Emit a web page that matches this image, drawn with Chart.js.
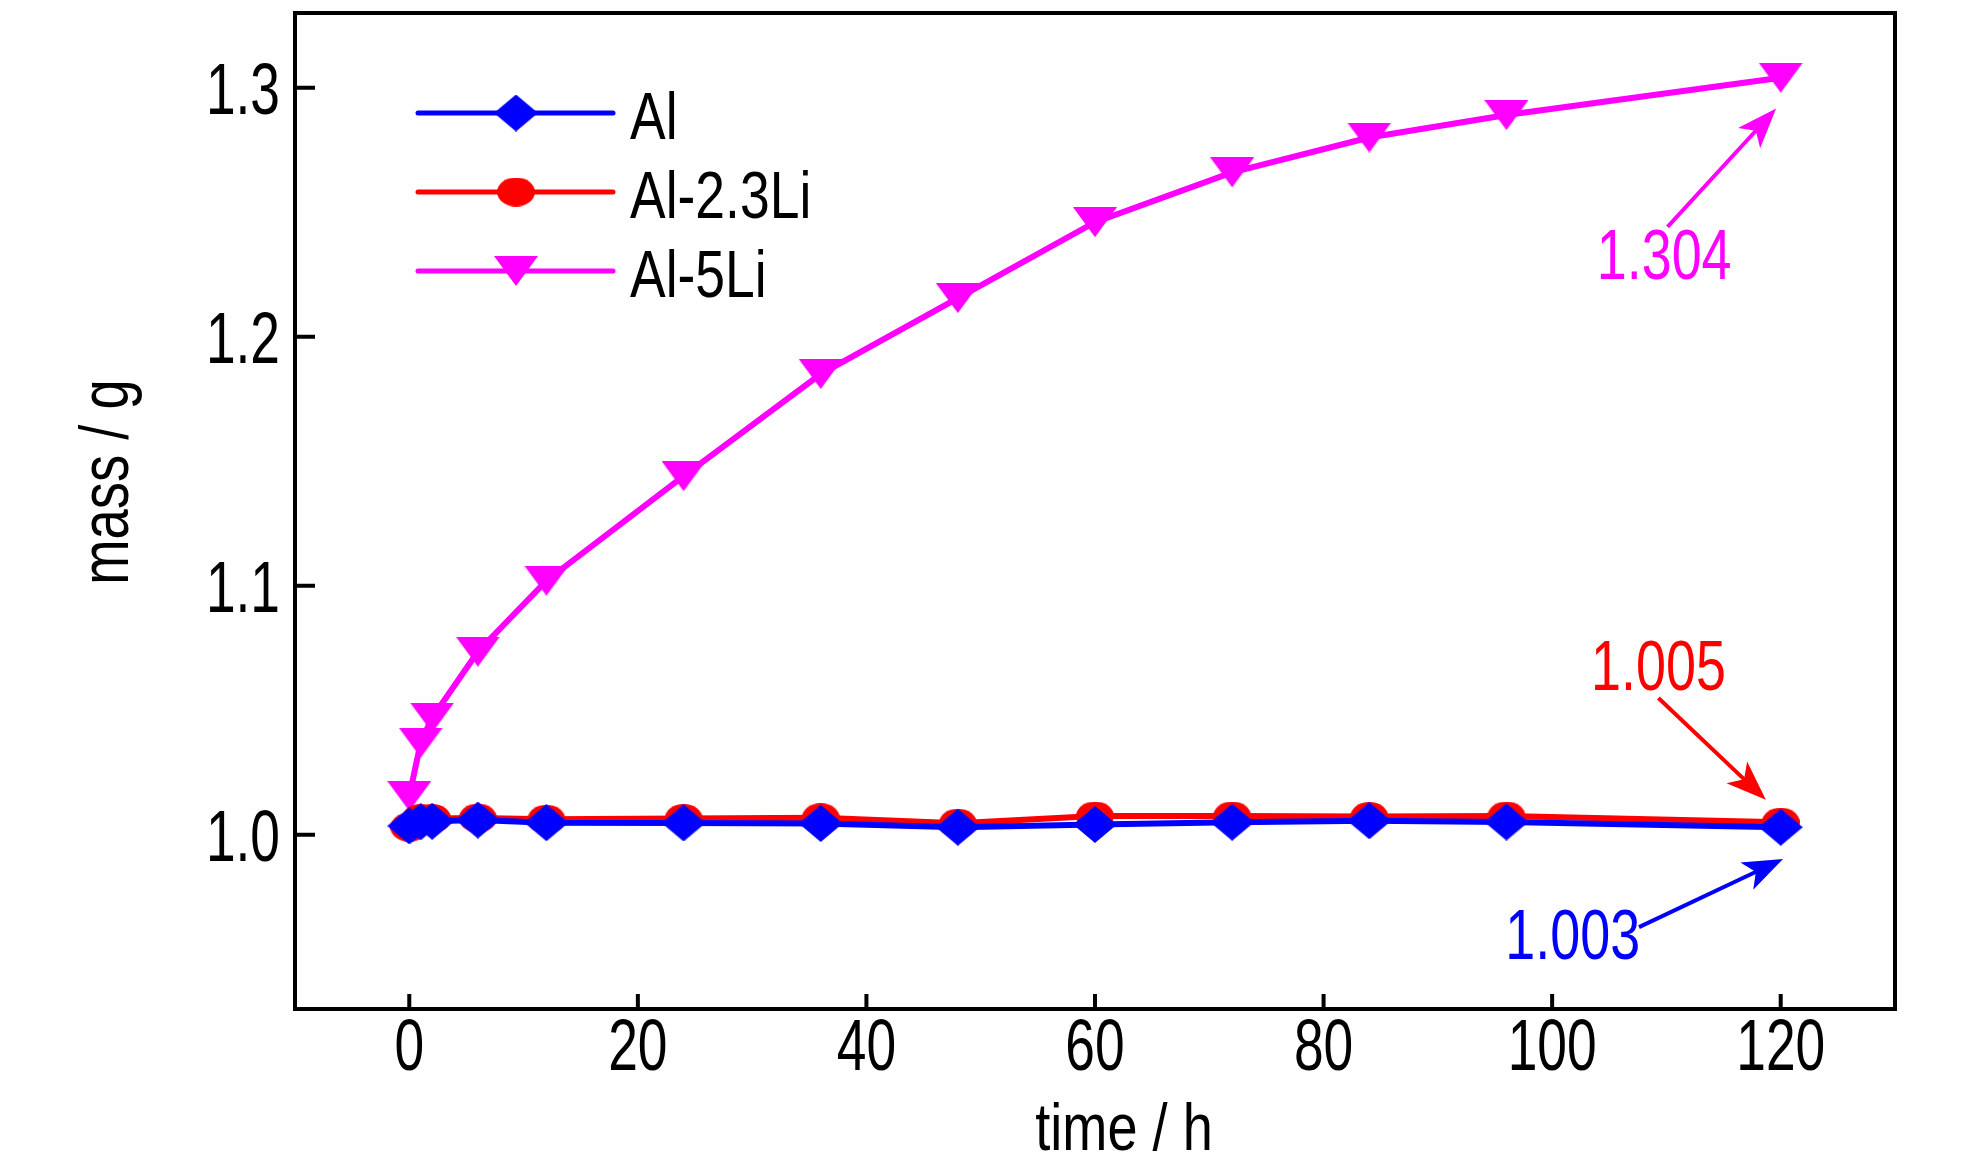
<!DOCTYPE html>
<html>
<head>
<meta charset="utf-8">
<title>mass vs time</title>
<script src="https://cdn.jsdelivr.net/npm/chart.js@4"></script>
<style>
  html, body { margin: 0; padding: 0; background: #fff; }
  canvas { display: block; }
</style>
</head>
<body>
<canvas id="graficoMasa" width="1984" height="1157"></canvas>
<script>
// ====================
// Datos
// ====================
const hours = [0, 1, 2, 6, 12, 24, 36, 48, 60, 72, 84, 96, 120];
const massAl = [1.0035, 1.0052, 1.0054, 1.0059, 1.0048, 1.0047, 1.0045, 1.0030, 1.0041, 1.0050, 1.0056, 1.0051, 1.003];
const massAl23Li = [1.0030, 1.0065, 1.0065, 1.0067, 1.0062, 1.0065, 1.0068, 1.0046, 1.0075, 1.0075, 1.0073, 1.0075, 1.005];
const massAl5Li = [1.0155, 1.037, 1.047, 1.0735, 1.102, 1.144, 1.185, 1.2155, 1.246, 1.266, 1.280, 1.289, 1.304];
const seriesNames = ["Al", "Al-2.3Li", "Al-5Li"];
const xTicks = [0, 20, 40, 60, 80, 100, 120];
const yTicks = [1.0, 1.1, 1.2, 1.3];

const BLUE = "#0000ff", RED = "#ff0000", MAGENTA = "#ff00ff";
const SANS = '"Liberation Sans", Arial, sans-serif';

// texto estrecho: Liberation Sans comprimido en horizontal
function narrowText(ctx, text, x, y, size, sx, align, color) {
    ctx.save();
    ctx.translate(x, y);
    ctx.scale(sx, 1);
    ctx.font = size + "px " + SANS;
    ctx.textAlign = align;
    ctx.textBaseline = "alphabetic";
    ctx.fillStyle = color || "#000";
    ctx.fillText(text, 0, 0);
    ctx.restore();
}

// marcadores dibujados en un canvas pequeño
function marker(kind, w, h, color) {
    const c = document.createElement("canvas");
    c.width = w; c.height = h;
    const g = c.getContext("2d");
    g.fillStyle = color;
    g.beginPath();
    if (kind === "diamond") {
        g.moveTo(w / 2, 0); g.lineTo(w, h / 2); g.lineTo(w / 2, h); g.lineTo(0, h / 2);
    } else if (kind === "ellipse") {
        g.ellipse(w / 2, h / 2, w / 2, h / 2, 0, 0, Math.PI * 2);
    } else {
        g.moveTo(0, 0); g.lineTo(w, 0); g.lineTo(w / 2, h);
    }
    g.closePath();
    g.fill();
    return c;
}

const mkDiamond = marker("diamond", 44, 37, BLUE);
const mkCircle = marker("ellipse", 38, 29, RED);
const mkTriangle = marker("triangle", 44, 30, MAGENTA);

function pts(values) {
    return hours.map((h, i) => ({ x: h, y: values[i] }));
}

// ====================
// Decoración: marco, ticks, etiquetas, títulos, leyenda, flechas
// ====================
const decor = {
    id: "decor",
    afterDraw(chart) {
        const { ctx, chartArea: a, scales: { x, y } } = chart;
        ctx.save();

        // marco
        ctx.strokeStyle = "#000";
        ctx.lineWidth = 4;
        ctx.strokeRect(a.left, a.top, a.width, a.height);

        // ticks hacia dentro y sus etiquetas
        ctx.beginPath();
        x.ticks.forEach(t => {
            const px = x.getPixelForValue(t.value);
            ctx.moveTo(px, a.bottom);
            ctx.lineTo(px, a.bottom - 15);
        });
        y.ticks.forEach(t => {
            const py = y.getPixelForValue(t.value);
            ctx.moveTo(a.left, py);
            ctx.lineTo(a.left + 20, py);
        });
        ctx.stroke();

        x.ticks.forEach(t => {
            narrowText(ctx, String(t.value), x.getPixelForValue(t.value), a.bottom + 61, 73, 0.73, "center");
        });
        y.ticks.forEach(t => {
            narrowText(ctx, t.value.toFixed(1), a.left - 15, y.getPixelForValue(t.value) + 26, 73, 0.73, "right");
        });

        // títulos de ejes
        narrowText(ctx, "time / h", 1124, 1150, 66, 0.82, "center");
        ctx.save();
        ctx.translate(128, 482);
        ctx.rotate(-Math.PI / 2);
        narrowText(ctx, "mass / g", 0, 0, 68, 0.8, "center");
        ctx.restore();

        // leyenda
        const rows = [113, 192, 271];
        chart.data.datasets.forEach((ds, i) => {
            const ry = rows[i];
            ctx.strokeStyle = ds.borderColor;
            ctx.lineWidth = 5;
            ctx.lineCap = "round";
            ctx.beginPath();
            ctx.moveTo(418, ry);
            ctx.lineTo(613, ry);
            ctx.stroke();
            const img = ds.pointStyle;
            ctx.drawImage(img, 516 - img.width / 2, ry - img.height / 2);
            narrowText(ctx, ds.label, 630, ry + 26, 66, 0.81, "left");
        });

        // valores finales con flechas (posiciones en unidades de datos)
        const last = arr => arr[arr.length - 1].toFixed(3);
        const callouts = [
            { text: last(massAl5Li), color: MAGENTA, tx: 109.8, ty: 1.2230, x0: 110.1, y0: 1.2441, x1: 119.6, y1: 1.2916 },
            { text: last(massAl23Li), color: RED, tx: 109.3, ty: 1.0580, x0: 109.3, y0: 1.0549, x1: 118.7, y1: 1.0140 },
            { text: last(massAl), color: BLUE, tx: 101.8, ty: 0.9500, x0: 107.6, y0: 0.9629, x1: 120.2, y1: 0.9902 }
        ];
        callouts.forEach(c => {
            narrowText(ctx, c.text, x.getPixelForValue(c.tx), y.getPixelForValue(c.ty), 70, 0.77, "center", c.color);

            const ax = x.getPixelForValue(c.x0), ay = y.getPixelForValue(c.y0);
            const bx = x.getPixelForValue(c.x1), by = y.getPixelForValue(c.y1);
            const ang = Math.atan2(by - ay, bx - ax);
            const cs = Math.cos(ang), sn = Math.sin(ang);
            const hl = 40, hw = 15;
            ctx.fillStyle = c.color;
            ctx.strokeStyle = c.color;
            ctx.lineWidth = 4;
            ctx.lineCap = "butt";
            ctx.beginPath();
            ctx.moveTo(ax, ay);
            ctx.lineTo(bx - cs * hl * 0.7, by - sn * hl * 0.7);
            ctx.stroke();
            ctx.beginPath();
            ctx.moveTo(bx, by);
            ctx.lineTo(bx - cs * hl - sn * hw, by - sn * hl + cs * hw);
            ctx.lineTo(bx - cs * hl * 0.75, by - sn * hl * 0.75);
            ctx.lineTo(bx - cs * hl + sn * hw, by - sn * hl - cs * hw);
            ctx.closePath();
            ctx.fill();
        });

        ctx.restore();
    }
};

// ====================
// Gráfico
// ====================
const noPad = s => { s.paddingTop = 0; s.paddingBottom = 0; s.paddingLeft = 0; s.paddingRight = 0; };

const ctxMasa = document.getElementById("graficoMasa");
new Chart(ctxMasa, {
    type: "line",
    data: {
        datasets: [
            {
                label: seriesNames[0],
                data: pts(massAl),
                borderColor: BLUE,
                backgroundColor: BLUE,
                borderWidth: 6,
                pointStyle: mkDiamond,
                pointRadius: 18,
                tension: 0
            },
            {
                label: seriesNames[1],
                data: pts(massAl23Li),
                borderColor: RED,
                backgroundColor: RED,
                borderWidth: 6,
                pointStyle: mkCircle,
                pointRadius: 16,
                tension: 0
            },
            {
                label: seriesNames[2],
                data: pts(massAl5Li),
                borderColor: MAGENTA,
                backgroundColor: MAGENTA,
                borderWidth: 6,
                pointStyle: mkTriangle,
                pointRadius: 18,
                tension: 0
            }
        ]
    },
    options: {
        responsive: false,
        animation: false,
        devicePixelRatio: 1,
        layout: { autoPadding: false, padding: { top: 13, right: 89, left: 0, bottom: 0 } },
        plugins: {
            legend: { display: false },
            tooltip: { enabled: false }
        },
        scales: {
            x: {
                type: "linear",
                min: -10,
                max: 130,
                afterBuildTicks: s => { s.ticks = xTicks.map(v => ({ value: v })); },
                afterFit: s => { s.height = 148; noPad(s); },
                grid: { display: false, drawTicks: false },
                border: { display: false },
                ticks: { display: false }
            },
            y: {
                type: "linear",
                min: 0.93,
                max: 1.33,
                afterBuildTicks: s => { s.ticks = yTicks.map(v => ({ value: v })); },
                afterFit: s => { s.width = 295; noPad(s); },
                grid: { display: false, drawTicks: false },
                border: { display: false },
                ticks: { display: false }
            }
        }
    },
    plugins: [decor]
});
</script>
</body>
</html>
